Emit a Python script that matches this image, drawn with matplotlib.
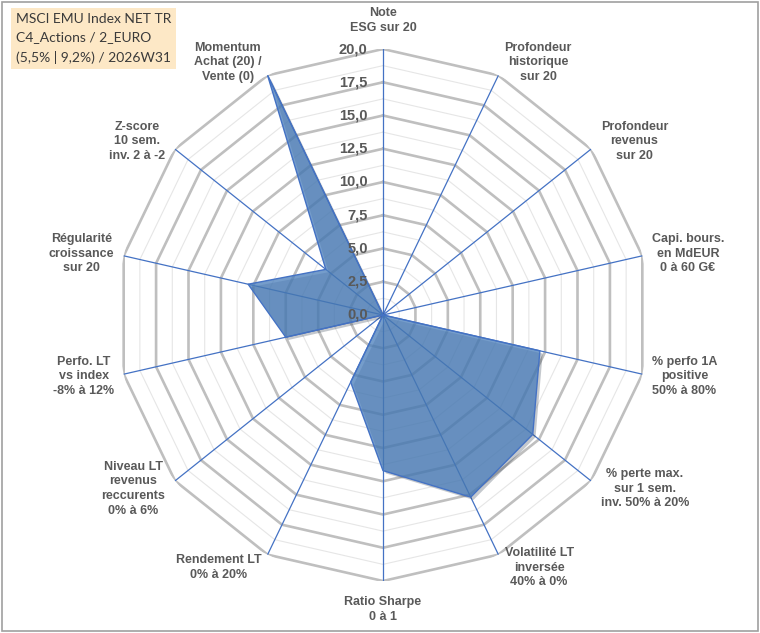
import numpy as np
import matplotlib
matplotlib.use("Agg")
import matplotlib.pyplot as plt
import matplotlib.patheffects as pe
from matplotlib.patches import Rectangle

# ---- data ----
categories = [
    "Note\nESG sur 20",
    "Profondeur\nhistorique\nsur 20",
    "Profondeur\nrevenus\nsur 20",
    "Capi. bours.\nen MdEUR\n0 à 60 G€",
    "% perfo 1A\npositive\n50% à 80%",
    "% perte max.\nsur 1 sem.\ninv. 50% à 20%",
    "Volatilité LT\ninversée\n40% à 0%",
    "Ratio Sharpe\n0 à 1",
    "Rendement LT\n0% à 20%",
    "Niveau LT\nrevenus\nreccurents\n0% à 6%",
    "Perfo. LT\nvs index\n-8% à 12%",
    "Régularité\ncroissance\nsur 20",
    "Z-score\n10 sem.\ninv. 2 à -2",
    "Momentum\nAchat (20) /\nVente (0)",
]
values = [0, 0, 0, 0, 12.1, 14.4, 15.2, 11.7, 5.6, 0, 7.5, 10.4, 5.5, 20.0]
major_ticks = [0, 2.5, 5, 7.5, 10, 12.5, 15, 17.5, 20]
minor_ticks = [1.25, 3.75, 6.25, 8.75, 11.25, 13.75, 16.25, 18.75]
title_lines = ["MSCI EMU Index NET TR", "C4_Actions / 2_EURO", "(5,5% | 9,2%) / 2026W31"]

TXT = "#595959"
SPOKE = "#4472c4"

fig = plt.figure(figsize=(7.6, 6.33), dpi=100)
ax = fig.add_axes([117/760, 52/633, 532/760, 532/633], projection="polar")
ax.set_theta_zero_location("N")
ax.set_theta_direction(-1)
ax.set_ylim(0, 20)
ax.grid(False)
ax.spines["polar"].set_visible(False)
ax.set_xticks([])
ax.set_yticks([])
ax.patch.set_alpha(0)

n = len(categories)
theta = np.arange(n) * 2 * np.pi / n
theta_c = np.append(theta, theta[0])

# grid polygons
for r in minor_ticks:
    ax.plot(theta_c, [r] * (n + 1), color="#e6e6e6", lw=0.8, zorder=1)
for r in major_ticks[1:]:
    ax.plot(theta_c, [r] * (n + 1), color="#bfbfbf", lw=1.9, zorder=2)

# spokes
for t in theta:
    ax.plot([t, t], [0, 20], color=SPOKE, lw=0.9, zorder=3)

# data polygon
vals_c = np.append(values, values[0])
ax.fill(theta_c, vals_c, facecolor="#4a7ebb", alpha=0.76, edgecolor="none", zorder=4,
        path_effects=[pe.SimplePatchShadow(offset=(2, -2), alpha=0.25), pe.Normal()])
ax.plot(theta_c, vals_c, color=SPOKE, lw=1.0, zorder=5)

# radial tick labels
for v in major_ticks:
    ax.annotate(f"{v:.1f}".replace(".", ","), xy=(0, v), xytext=(-11, 0),
                textcoords="offset points", ha="right", va="center",
                fontsize=10.5, fontweight="bold", color=TXT,
                family="Liberation Sans", zorder=6)

# category labels
for t, lab in zip(theta, categories):
    s, c = np.sin(t), np.cos(t)
    pad = (8 + 7 * abs(c)) * 72 / 100
    if s > 0.05:
        ha = "left"
    elif s < -0.05:
        ha = "right"
    else:
        ha = "center"
    if abs(s) <= 0.05:
        va = "bottom" if c > 0 else "top"
    else:
        va = "center"
    ax.annotate(lab, xy=(t, 20), xytext=(pad * s, pad * c), textcoords="offset points",
                ha=ha, va=va, multialignment="center", fontsize=9, fontweight="bold",
                color=TXT, family="Liberation Sans", linespacing=1.3,
                annotation_clip=False)

# title box
fig.text(16/760, 1 - 13/633, "\n".join(title_lines), ha="left", va="top",
         fontsize=10, color="#3a3a3a", family="Lato", linespacing=1.65,
         bbox=dict(boxstyle="square,pad=0.35", fc="#fde8c6", ec="none"))

# outer frame
fig.patches.append(Rectangle((0.002, 0.003), 0.995, 0.994, transform=fig.transFigure,
                             fill=False, ec="#a0a0a0", lw=1.2))

fig.savefig("out.png", dpi=100)
